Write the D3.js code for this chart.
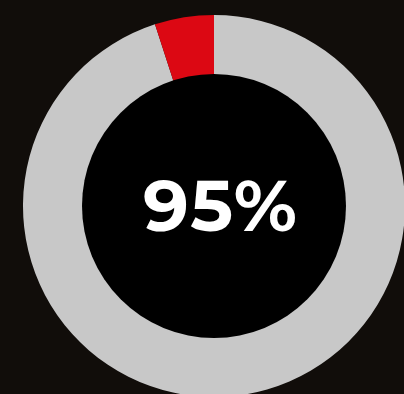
<!DOCTYPE html>
<html>
<head>
<meta charset="utf-8">
<script src="https://cdn.jsdelivr.net/npm/d3@7"></script>
<style>
html,body{margin:0;padding:0;background:#110d0a;overflow:hidden;}
</style>
</head>
<body>
<script>
// donut data
var labels=["complete","remaining"];
var values=[95,5];
var colors=["#c8c8c8","#dc0813"];
var centerLabel="95%";

var w=404,h=394;
var cx=214,cy=206,outerR=191,innerR=132;

var svg=d3.select("body").append("svg")
	.attr("width",w)
	.attr("height",h);

svg.append("rect")
	.attr("width",w)
	.attr("height",h)
	.style("fill","#110d0a");

var pie=d3.pie().sort(null).value(function(d){return d;});
var arc=d3.arc().innerRadius(innerR-2).outerRadius(outerR);

var g=svg.append("g").attr("transform","translate("+cx+","+cy+")");

g.selectAll(".slice")
	.data(pie(values))
	.enter()
	.append("path")
	.attr("class","slice")
	.attr("d",arc)
	.style("fill",function(d,i){return colors[i];});

//black centre
g.append("circle")
	.attr("r",innerR)
	.style("fill","#000");

g.append("text")
	.attr("x",6)
	.attr("y",25)
	.attr("text-anchor","middle")
	.style("font-family","Montserrat, 'Open Sans', sans-serif")
	.style("font-weight","700")
	.style("font-size","72px")
	.style("fill","#fff")
	.attr("textLength",154)
	.text(centerLabel);
</script>
</body>
</html>
